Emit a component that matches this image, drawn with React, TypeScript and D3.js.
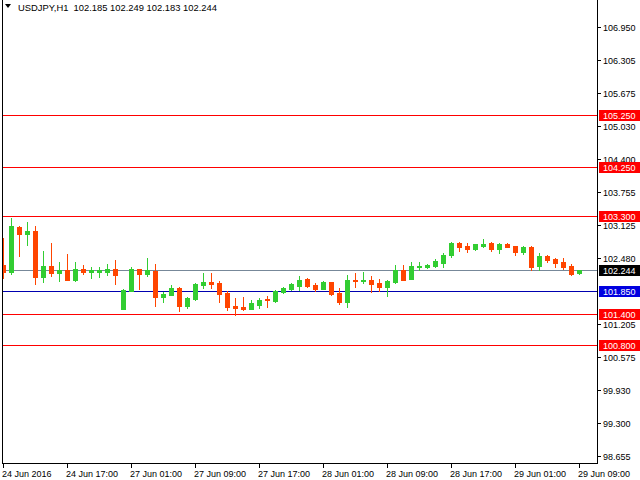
import React from "react";
import * as d3 from "d3";

const opens = [102.349,102.219,103.078,102.948,103.006,102.122,102.329,102.200,102.252,102.064,102.271,102.219,102.219,102.219,102.271,101.498,101.846,102.271,102.175,102.238,101.735,101.768,101.904,101.561,101.697,101.968,102.020,102.000,101.807,101.556,101.536,101.498,101.575,101.685,101.652,101.821,101.884,101.948,102.078,101.962,101.890,102.014,101.801,101.639,102.059,102.039,102.059,102.000,101.923,102.020,102.246,102.078,102.310,102.310,102.335,102.393,102.542,102.768,102.716,102.658,102.722,102.768,102.658,102.755,102.716,102.606,102.703,102.335,102.523,102.465,102.407,102.335,102.185];
const highs = [102.877,103.252,103.103,103.186,103.103,102.619,102.774,102.407,102.561,102.407,102.349,102.310,102.310,102.368,102.445,101.884,102.310,102.280,102.484,102.368,101.821,101.962,101.929,101.735,102.000,102.194,102.194,102.039,101.852,101.705,101.724,101.666,101.716,101.755,101.865,101.929,101.995,102.142,102.091,101.995,102.039,102.026,101.898,102.155,102.188,102.207,102.142,102.078,102.059,102.349,102.349,102.413,102.413,102.368,102.465,102.575,102.788,102.788,102.768,102.760,102.852,102.799,102.774,102.768,102.722,102.722,102.710,102.575,102.542,102.484,102.484,102.368,102.249];
const lows = [102.103,102.175,102.523,102.735,101.987,102.026,102.142,102.045,102.059,102.045,102.180,102.103,102.122,102.161,101.987,101.490,101.840,101.884,102.142,101.556,101.639,101.765,101.465,101.511,101.672,101.904,101.904,101.633,101.478,101.382,101.478,101.492,101.511,101.542,101.627,101.801,101.871,101.871,101.929,101.852,101.884,101.774,101.600,101.542,101.929,101.995,101.832,101.852,101.755,102.006,102.059,102.075,102.246,102.285,102.316,102.316,102.509,102.625,102.606,102.639,102.697,102.625,102.587,102.691,102.542,102.561,102.252,102.252,102.413,102.316,102.277,102.161,102.183];
const closes = [102.219,103.103,102.948,103.006,102.122,102.329,102.200,102.252,102.064,102.271,102.219,102.246,102.246,102.271,102.161,101.865,102.271,102.175,102.252,101.735,101.788,101.904,101.561,101.710,101.981,102.020,101.987,101.794,101.542,101.523,101.498,101.614,101.672,101.666,101.840,101.910,101.975,102.059,101.948,101.890,102.014,101.794,101.639,102.059,102.039,102.059,101.981,101.923,102.039,102.246,102.064,102.329,102.329,102.349,102.426,102.542,102.768,102.703,102.658,102.755,102.749,102.658,102.755,102.703,102.606,102.691,102.316,102.523,102.445,102.393,102.316,102.180,102.244];

const yTickLabels = ["106.950","106.305","105.675","105.030","104.400","103.755","103.125","102.480","101.205","100.575","99.930","99.300","98.655"];
const xTickLabels = ["24 Jun 2016","24 Jun 17:00","27 Jun 01:00","27 Jun 09:00","27 Jun 17:00","28 Jun 01:00","28 Jun 09:00","28 Jun 17:00","29 Jun 01:00","29 Jun 09:00"];
const redLevels = [105.25, 104.25, 103.3, 101.4, 100.8];
const blueLevel = 101.85;
const bidLevel = 102.244;
const titleText = "USDJPY,H1  102.185 102.249 102.183 102.244";

const W = 640, H = 480;
const L = 2, R = 597, T = 0, B = 463;
const FONT = "'Liberation Sans', Arial, sans-serif";
const UP = "#32cd32", DOWN = "#ff4500";

export default function App() {
  const y = d3.scaleLinear().domain([98.519, 107.474]).range([B, T]);
  const x = d3.scaleLinear().domain([0, 72]).range([3, 579]);
  const py = (v: number) => Math.round(y(v));
  const fmt = d3.format(".3f");

  const lineLabel = (v: number, bg: string, key: string) => {
    const yy = py(v);
    return (
      <g key={key}>
        <rect x={599} y={yy - 5} width={41} height={11} fill={bg} />
        <text x={603} y={yy + 3.5} fontSize={9} fontFamily={FONT} fill="#ffffff">{fmt(v)}</text>
      </g>
    );
  };

  return (
    <svg width={W} height={H} style={{ position: "absolute", left: 0, top: 0, background: "#fff" }}>
      <defs>
        <clipPath id="plot"><rect x={L + 1} y={T} width={R - L - 1} height={B - T} /></clipPath>
      </defs>
      <rect x={0} y={0} width={W} height={H} fill="#fff" />
      {redLevels.map((v, i) => (
        <line key={"r" + i} x1={L} x2={R} y1={py(v) + 0.5} y2={py(v) + 0.5} stroke="#ff0000" strokeWidth={1} />
      ))}
      <line x1={L} x2={R} y1={py(blueLevel) + 0.5} y2={py(blueLevel) + 0.5} stroke="#0000b0" strokeWidth={1} />
      <line x1={L} x2={R} y1={py(bidLevel) + 0.5} y2={py(bidLevel) + 0.5} stroke="#778899" strokeWidth={1} />
      <g clipPath="url(#plot)">
        {opens.map((o, i) => {
          const c = closes[i];
          const cx = Math.round(x(i));
          const col = c >= o ? UP : DOWN;
          const top = py(Math.max(o, c));
          const bot = py(Math.min(o, c));
          return (
            <g key={i}>
              <line x1={cx + 0.5} x2={cx + 0.5} y1={py(highs[i])} y2={py(lows[i]) + 1} stroke={col} strokeWidth={1} />
              <rect x={cx - 2} y={top} width={5} height={Math.max(1, bot - top + 1)} fill={col} />
            </g>
          );
        })}
      </g>
      <line x1={L + 0.5} x2={L + 0.5} y1={0} y2={B + 1} stroke="#000" />
      <line x1={R + 0.5} x2={R + 0.5} y1={0} y2={B + 1} stroke="#000" />
      <line x1={L} x2={R + 1} y1={B + 0.5} y2={B + 0.5} stroke="#000" />
      {yTickLabels.map((t) => {
        const yy = py(+t);
        return (
          <g key={t}>
            <line x1={R} x2={R + 4} y1={yy + 0.5} y2={yy + 0.5} stroke="#000" />
            <text x={603} y={yy + 3.5} fontSize={9} fontFamily={FONT} fill="#000">{t}</text>
          </g>
        );
      })}
      {redLevels.map((v, i) => lineLabel(v, "#ff0000", "rl" + i))}
      {lineLabel(blueLevel, "#0000e0", "bl")}
      {lineLabel(bidLevel, "#000000", "bid")}
      {xTickLabels.map((t, i) => {
        const xx = Math.round(x(i * 8));
        return (
          <g key={t}>
            <line x1={xx + 0.5} x2={xx + 0.5} y1={B} y2={B + 5} stroke="#000" />
            <text x={xx - 1} y={477} fontSize={9} fontFamily={FONT} fill="#000">{t}</text>
          </g>
        );
      })}
      <path d="M5,4 L11,4 L8,8 Z" fill="#000" />
      <text x={18} y={11} fontSize={9.4} fontFamily={FONT} fill="#000" style={{ whiteSpace: "pre" }}>{titleText}</text>
    </svg>
  );
}
